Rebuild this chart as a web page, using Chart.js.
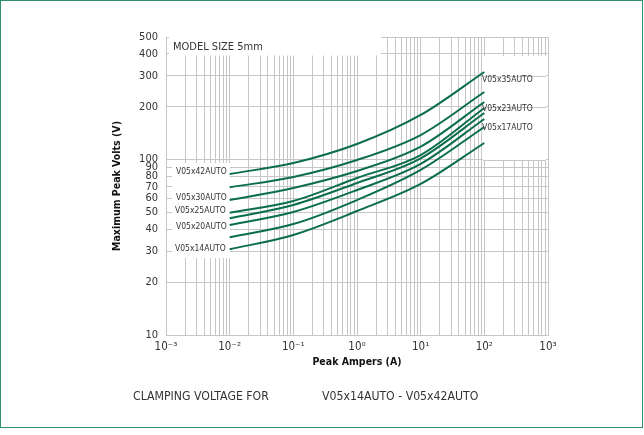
<!DOCTYPE html>
<html><head><meta charset="utf-8">
<script src="https://cdn.jsdelivr.net/npm/chart.js@4/dist/chart.umd.min.js"></script>
<style>html,body{margin:0;padding:0;background:#fff;}canvas{display:block;}</style>
</head><body>
<canvas id="c" width="644" height="435"></canvas>
<script>
// ---- data ----
const currents = [0.01, 0.1, 1, 10, 100];
const v05x42 = [82.8, 95.6, 122.7, 179.6, 315.8];
const v05x35 = [69.5, 79.6, 99.5, 138.1, 242.9];
const v05x30 = [58.8, 68.9, 86.1, 118.5, 213.0];
const v05x25 = [49.8, 58.1, 78.6, 106.2, 197.0];
const v05x23 = [46.3, 55.1, 73.6, 101.7, 184.4];
const v05x20 = [42.4, 50.3, 67.1, 94.5, 170.4];
const v05x17 = [36.1, 42.9, 58.8, 87.3, 153.4];
const v05x14 = [30.8, 37.2, 50.9, 72.6, 124.3];
const seriesNames = ['V05x42AUTO','V05x35AUTO','V05x30AUTO','V05x25AUTO','V05x23AUTO','V05x20AUTO','V05x17AUTO','V05x14AUTO'];
const seriesValues = [v05x42, v05x35, v05x30, v05x25, v05x23, v05x20, v05x17, v05x14];
const yTickValues = [10,20,30,40,50,60,70,80,90,100,200,300,400,500];
const xDecades = [-3,-2,-1,0,1,2,3];
const leftLabels = ['V05x42AUTO','V05x30AUTO','V05x25AUTO','V05x20AUTO','V05x14AUTO'];
const rightLabels = ['V05x35AUTO','V05x23AUTO','V05x17AUTO'];
const modelText = 'MODEL SIZE 5mm';
const captionLeft = 'CLAMPING VOLTAGE FOR';
const captionRight = 'V05x14AUTO - V05x42AUTO';
const xTitle = 'Peak Ampers (A)';
const yTitle = 'Maximum Peak Volts (V)';

// ---- styling ----
const FONT = "'Liberation Sans Narrow','Arial Narrow','DejaVu Sans Condensed',sans-serif";
const LINE = '#0b6e4a';
const GRID = '#c6c6c6';
const TEXT = '#333333';
const FRAME = '#2f8f6c';

const supMap = {'-':'\u207B','0':'\u2070','1':'\u00B9','2':'\u00B2','3':'\u00B3'};
const sup = s => String(s).split('').map(c => supMap[c]).join('');

const xTickValues = [];
xDecades.forEach(d => {
  for (let m = 1; m <= 9; m++) {
    if (d === 3 && m > 1) break;
    xTickValues.push(+(m * Math.pow(10, d)).toPrecision(3));
  }
});

const leftLabelPos = [[176,172],[176,198],[175,211],[176,227],[175,249]];
const rightLabelPos = [[482,80],[482,109],[482,128]];

const decorPlugin = {
  id: 'decor',
  beforeDatasetsDraw(chart) {
    const ctx = chart.ctx;
    const ys = chart.scales.y;
    ctx.save();
    ctx.fillStyle = '#ffffff';
    ctx.fillRect(169, 36, 212, 19.5);
    ctx.fillRect(172, 163, 58, 95);
    const rb = {x: 483, y: 56, w: 63, h: 105};
    ctx.fillRect(rb.x, rb.y, rb.w, rb.h);
    ctx.strokeStyle = GRID; ctx.lineWidth = 1;
    yTickValues.forEach(v => {
      const p = Math.round(ys.getPixelForValue(v)) + 0.5;
      if (p > rb.y && p < rb.y + rb.h) {
        ctx.beginPath(); ctx.moveTo(rb.x, p); ctx.lineTo(rb.x + rb.w, p); ctx.stroke();
      }
    });
    ctx.restore();
  },
  afterDraw(chart) {
    const ctx = chart.ctx;
    ctx.save();
    ctx.fillStyle = TEXT;
    ctx.textBaseline = 'middle';
    ctx.textAlign = 'left';
    ctx.font = "11px " + FONT;
    ctx.fillText(modelText, 173, 47);
    ctx.font = "8.5px " + FONT;
    leftLabels.forEach((t, i) => ctx.fillText(t, leftLabelPos[i][0], leftLabelPos[i][1]));
    rightLabels.forEach((t, i) => ctx.fillText(t, rightLabelPos[i][0], rightLabelPos[i][1]));
    ctx.font = "12.2px " + FONT;
    ctx.fillText(captionLeft, 133, 397);
    ctx.fillText(captionRight, 322, 397);
    ctx.strokeStyle = FRAME; ctx.lineWidth = 1;
    ctx.strokeRect(0.5, 0.5, 642, 427);
    ctx.restore();
  }
};

new Chart(document.getElementById('c'), {
  type: 'line',
  data: {
    datasets: seriesValues.map((vals, i) => ({
      label: seriesNames[i],
      data: currents.map((x, j) => ({x: x, y: vals[j]})),
      borderColor: LINE,
      borderWidth: 2,
      pointRadius: 0,
      fill: false,
      cubicInterpolationMode: 'monotone'
    }))
  },
  options: {
    responsive: false,
    animation: false,
    layout: {padding: {left: 0, top: 37, right: 96, bottom: 0}},
    plugins: {legend: {display: false}, tooltip: {enabled: false}},
    scales: {
      x: {
        type: 'logarithmic', min: 0.001, max: 1000,
        afterBuildTicks: s => { s.ticks = xTickValues.map(v => ({value: v})); },
        afterFit: s => { s.height = 100; },
        grid: {color: GRID, lineWidth: 1, drawTicks: false},
        border: {display: true, color: GRID},
        ticks: {
          autoSkip: false, maxRotation: 0, minRotation: 0, padding: 5,
          color: TEXT, font: {family: FONT, size: 11.5},
          callback: v => {
            const e = Math.log10(v);
            if (Math.abs(e - Math.round(e)) < 1e-9) return '10' + sup(Math.round(e));
            return '';
          }
        },
        title: {display: true, text: xTitle, color: '#111', font: {family: FONT, size: 10.5, weight: 'bold'}, padding: {top: 0, bottom: 66}}
      },
      y: {
        type: 'logarithmic', min: 10, max: 500,
        afterBuildTicks: s => { s.ticks = yTickValues.map(v => ({value: v})); },
        afterFit: s => { s.width = 166; },
        grid: {color: GRID, lineWidth: 1, drawTicks: false},
        border: {display: true, color: GRID},
        ticks: {
          autoSkip: false, padding: 8, color: TEXT, font: {family: FONT, size: 11},
          callback: v => String(v)
        },
        title: {display: true, text: yTitle, color: '#111', font: {family: FONT, size: 10.5, weight: 'bold'}, padding: {top: 111, bottom: 0}}
      }
    }
  },
  plugins: [decorPlugin]
});
</script>
</body></html>
